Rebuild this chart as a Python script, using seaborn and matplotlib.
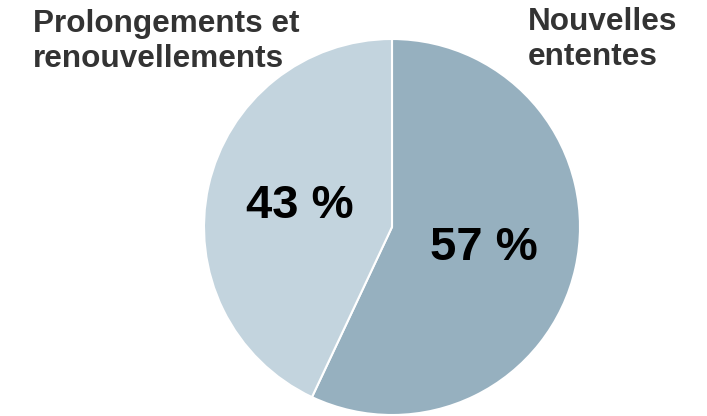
import matplotlib
matplotlib.use("Agg")
import matplotlib.pyplot as plt
import seaborn as sns

categories = ["Nouvelles\nententes", "Prolongements et\nrenouvellements"]
values = [57, 43]
colors = ["#96b0bf", "#c3d4de"]

sns.set_style("white")
plt.rcParams['font.family'] = ['Liberation Sans', 'DejaVu Sans']

W, H = 707, 416
fig = plt.figure(figsize=(W / 100, H / 100), dpi=100)
cx, cy, r = 392, 227, 188
ax = fig.add_axes([(cx - r) / W, (H - cy - r) / H, 2 * r / W, 2 * r / H])

wedges, texts, autotexts = ax.pie(
    values, colors=colors, startangle=90, counterclock=False,
    autopct=lambda p: f"{p:.0f} %", pctdistance=0.5,
    wedgeprops=dict(edgecolor="white", linewidth=1.5),
    textprops=dict(fontsize=34, fontweight="bold", color="black"),
)
ax.set_xlim(-1, 1)
ax.set_ylim(-1, 1)
ax.set_aspect("equal")
ax.axis("off")

# category labels
label_pos = {0: (528, [30, 65]), 1: (33, [32, 67])}
for i, cat in enumerate(categories):
    x, baselines = label_pos[i]
    for line, yb in zip(cat.split("\n"), baselines):
        fig.text(x / W, 1 - yb / H, line, ha="left", va="baseline",
                 fontsize=22.7, fontweight="bold", color="#333333")

fig.savefig("out.png", dpi=100)
